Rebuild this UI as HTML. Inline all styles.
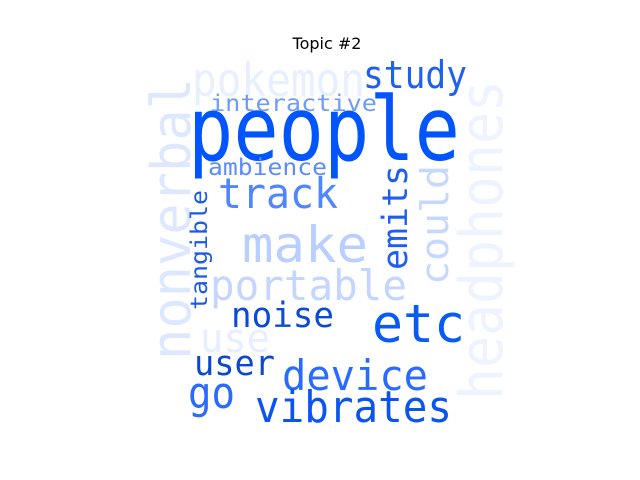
<!DOCTYPE html>
<html><head><meta charset="utf-8"><style>body{margin:0;background:#fff}svg{display:block}</style></head><body>
<svg width="640" height="480" viewBox="0 0 640 480" font-family="'DejaVu Sans Mono','Liberation Mono',monospace">
<text x="327" y="49" text-anchor="middle" font-family="'DejaVu Sans',sans-serif" font-size="16">Topic #2</text>
<g id="words"></g>
</svg>
<script>
const words=["people","pokemon","study","interactive","ambience","track","make","portable","noise","etc","use","user","device","go","vibrates","nonverbal","headphones","tangible","emits","could"];
const sizes=[88,46,38,23,23,42,50,42,35,53,40,35,42,44,44,54,60,23,35,38];
const colors=["#0055ff","#e8efff","#1f5ff2","#6f9bff","#5a8cff","#4f86ff","#b8cfff","#c4d6ff","#0a4ad6","#0a5af5","#e6eeff","#0a48d0","#2a6bff","#2a6bff","#0a55f0","#dde8ff","#eef3ff","#1a5ae8","#1e5ff0","#c6d8ff"];
const layout=[[188,160,272,0],[192,96,173,0],[363,88,104,0],[210,111,167,0],[208,175,119,0],[218,208,120,0],[242,262,126,0],[210,300,197,0],[231,327,103,0],[372,342,93,0],[200,352,70,0],[194,375,81,0],[282,390,146,0],[188,408,47,0],[255,422,197,0],[190,360,282,1],[502,400,320,1],[207,310,120,1],[407,270,105,1],[448,285,120,1]];
const g=document.getElementById('words');
words.forEach((w,i)=>{
 const t=document.createElementNS('http://www.w3.org/2000/svg','text');
 const [x,y,len,rot]=layout[i];
 t.setAttribute('x',x);t.setAttribute('y',y);
 if(rot)t.setAttribute('transform',`rotate(-90 ${x} ${y})`);
 t.setAttribute('font-size',sizes[i]);t.setAttribute('fill',colors[i]);
 t.setAttribute('textLength',len);t.setAttribute('lengthAdjust','spacingAndGlyphs');
 t.textContent=w;
 
 
 g.appendChild(t);
});
</script>
</body></html>
